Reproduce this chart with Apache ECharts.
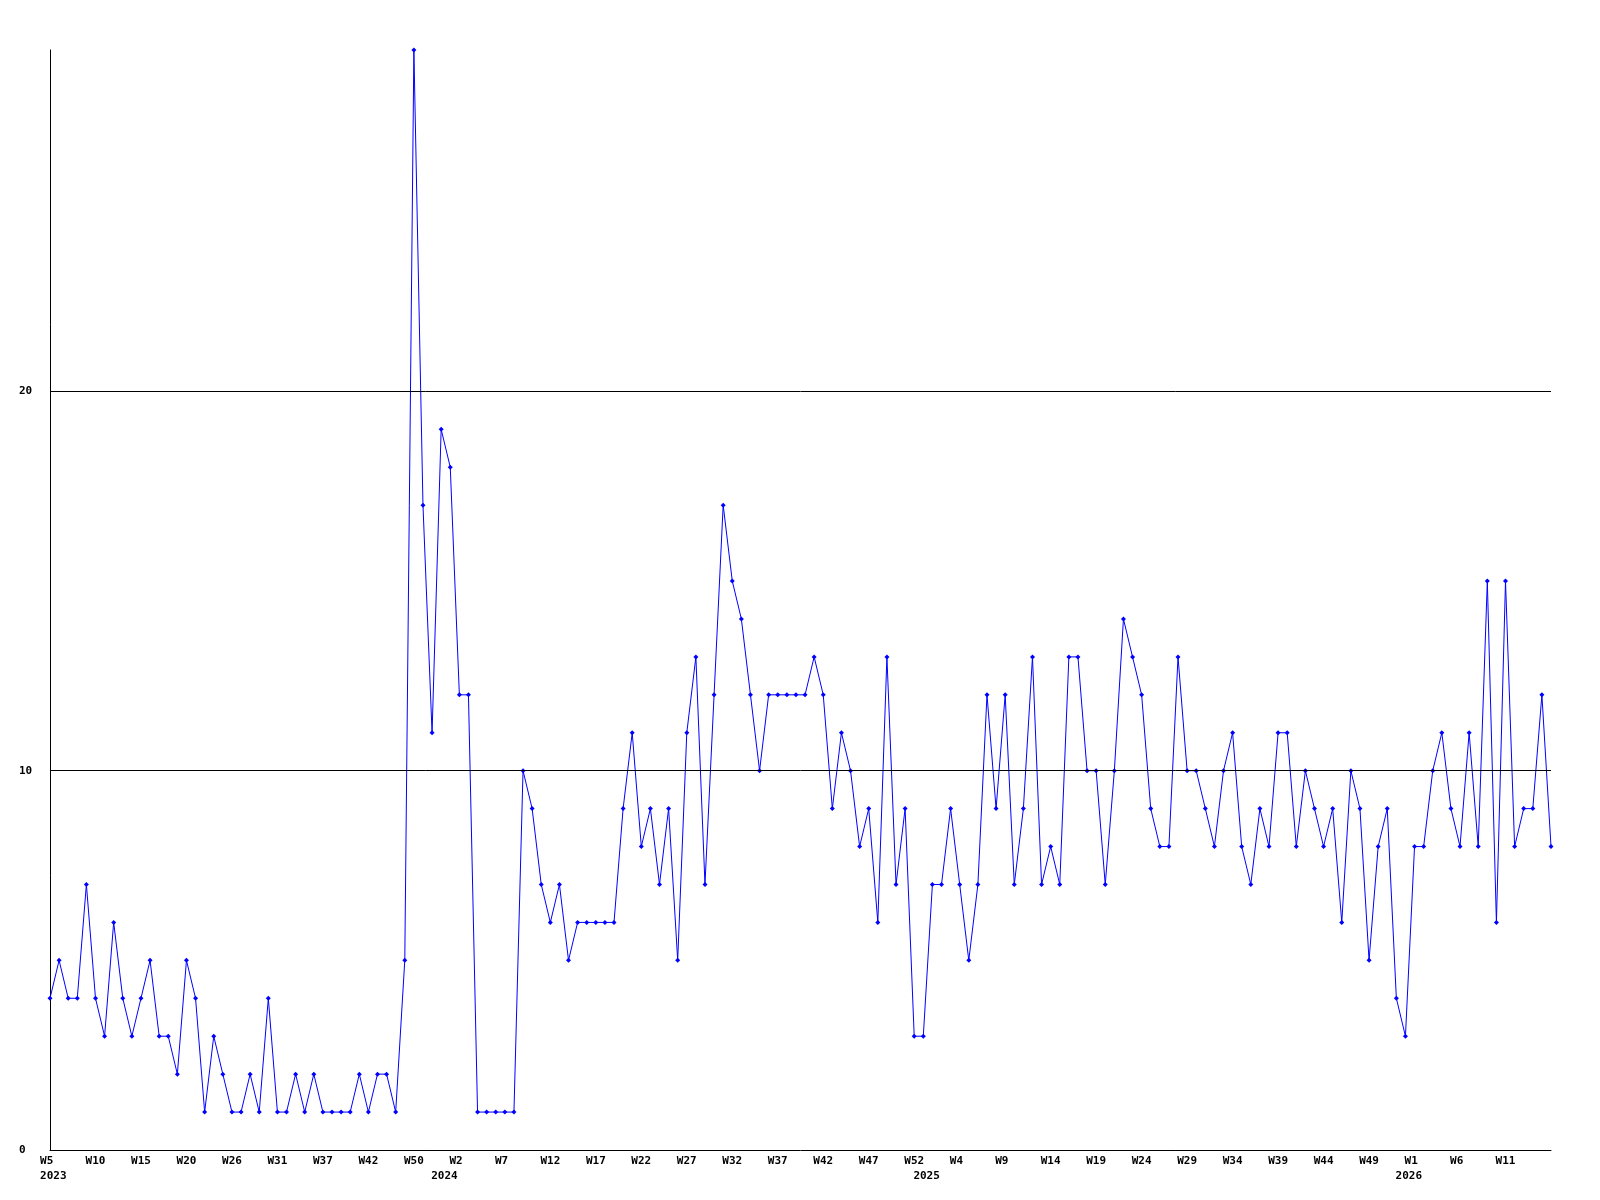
<!DOCTYPE html>
<html>
<head>
<meta charset="utf-8">
<script src="https://cdn.jsdelivr.net/npm/echarts@6/dist/echarts.min.js"></script>
<style>
  html, body { margin: 0; padding: 0; background: #ffffff; }
  #chart { width: 1600px; height: 1200px; }
</style>
</head>
<body>
<div id="chart"></div>
<script>
// Weekly values, one per point (166 points)
const values = [
  4, 5, 4, 4, 7, 4, 3, 6, 4, 3,
  4, 5, 3, 3, 2, 5, 4, 1, 3, 2,
  1, 1, 2, 1, 4, 1, 1, 2, 1, 2,
  1, 1, 1, 1, 2, 1, 2, 2, 1, 5,
  29, 17, 11, 19, 18, 12, 12, 1, 1, 1,
  1, 1, 10, 9, 7, 6, 7, 5, 6, 6,
  6, 6, 6, 9, 11, 8, 9, 7, 9, 5,
  11, 13, 7, 12, 17, 15, 14, 12, 10, 12,
  12, 12, 12, 12, 13, 12, 9, 11, 10, 8,
  9, 6, 13, 7, 9, 3, 3, 7, 7, 9,
  7, 5, 7, 12, 9, 12, 7, 9, 13, 7,
  8, 7, 13, 13, 10, 10, 7, 10, 14, 13,
  12, 9, 8, 8, 13, 10, 10, 9, 8, 10,
  11, 8, 7, 9, 8, 11, 11, 8, 10, 9,
  8, 9, 6, 10, 9, 5, 8, 9, 4, 3,
  8, 8, 10, 11, 9, 8, 11, 8, 15, 6,
  15, 8, 9, 9, 12, 8
];

// Week tick labels, shown on every 5th point
const tickLabels = [
  'W5', 'W10', 'W15', 'W20', 'W26', 'W31', 'W37', 'W42', 'W50',
  'W2', 'W7', 'W12', 'W17', 'W22', 'W27', 'W32', 'W37', 'W42', 'W47', 'W52',
  'W4', 'W9', 'W14', 'W19', 'W24', 'W29', 'W34', 'W39', 'W44', 'W49',
  'W1', 'W6', 'W11'
];

// Year labels and the point at which each year starts
const yearLabels = ['2023', '2024', '2025', '2026'];
const yearStartIndex = [0, 43, 96, 149];

// y-axis reference lines
const gridValues = [10, 20];

const categories = values.map((v, i) => String(i));

const chart = echarts.init(document.getElementById('chart'));

const labelFont = {
  fontFamily: 'DejaVu Sans Mono',
  fontWeight: 'bold',
  fontSize: 11,
  color: '#000000'
};

chart.setOption({
  animation: false,
  backgroundColor: '#ffffff',
  grid: { left: 50, right: 49, top: 50, bottom: 50 },
  xAxis: {
    type: 'category',
    data: categories,
    boundaryGap: false,
    axisLine: { show: true, lineStyle: { color: '#000000', width: 1 } },
    axisTick: { show: false },
    splitLine: { show: false },
    axisLabel: Object.assign({}, labelFont, {
      margin: 4,
      lineHeight: 15,
      align: 'center',
      interval: function (index) {
        return index % 5 === 0 || yearStartIndex.indexOf(index) >= 0;
      },
      formatter: function (value, index) {
        let week = '';
        if (index % 5 === 0 && tickLabels[index / 5] !== undefined) {
          week = (tickLabels[index / 5] + '   ').slice(0, 3);
        }
        const yi = yearStartIndex.indexOf(index);
        const year = yi >= 0 ? ' ' + yearLabels[yi] : '';
        return week + '\n' + year;
      }
    })
  },
  yAxis: {
    type: 'value',
    min: 0,
    max: 29,
    interval: 10,
    axisLine: { show: true, lineStyle: { color: '#000000', width: 1 } },
    axisTick: { show: false },
    splitLine: { show: false },
    axisLabel: Object.assign({}, labelFont, {
      margin: 31,
      align: 'left',
      showMaxLabel: false,
      formatter: function (v) { return v % 10 === 0 ? String(v) : ''; }
    })
  },
  series: [{
    type: 'line',
    data: values,
    showSymbol: true,
    showAllSymbol: true,
    symbol: 'diamond',
    symbolSize: 5,
    lineStyle: { color: '#0000ff', width: 1 },
    itemStyle: { color: '#0000ff' },
    emphasis: { disabled: true },
    markLine: {
      silent: true,
      symbol: 'none',
      label: { show: false },
      lineStyle: { color: '#000000', width: 1, type: 'solid' },
      data: gridValues.map(v => ({ yAxis: v }))
    }
  }]
});
</script>
</body>
</html>
